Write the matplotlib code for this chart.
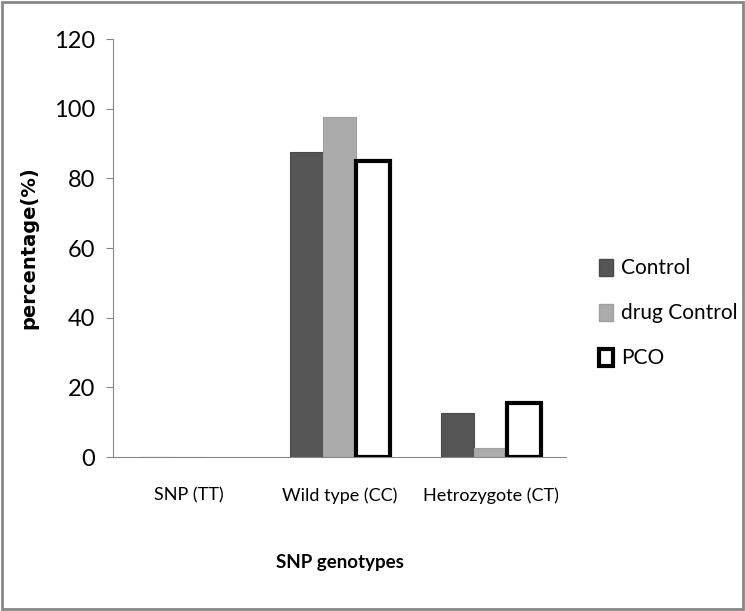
import numpy as np
import matplotlib
matplotlib.use('Agg')
import matplotlib.pyplot as plt
from matplotlib.patches import Rectangle, Patch

plt.rcParams['font.family'] = ['Lato', 'DejaVu Sans']

categories = ['SNP (TT)', 'Wild type (CC)', 'Hetrozygote (CT)']
series_names = ['Control', 'drug Control', 'PCO']
control = [0, 87.5, 12.5]
drug_control = [0, 97.5, 2.5]
pco = [0, 85, 15.5]

fig = plt.figure(figsize=(7.45, 6.11), dpi=100)
ax = fig.add_axes([0.152, 0.252, 0.608, 0.684])

x = np.arange(len(categories))
w = 0.22
ax.bar(x - w, control, w, color='#555555', edgecolor='#4a4a4a', linewidth=0.8)
ax.bar(x, drug_control, w, color='#ababab', edgecolor='#a0a0a0', linewidth=0.8)
# no outline on empty bars
pco_lw = [3 if v > 0 else 0 for v in pco]
ax.bar(x + w, pco, w, color='white', edgecolor='black', linewidth=pco_lw)

ax.set_xlim(-0.5, 2.5)
ax.set_ylim(0, 120)
ax.set_yticks(range(0, 121, 20))
ax.set_xticks(x)
ax.set_xticklabels(categories, fontsize=13)
ax.tick_params(axis='x', length=0, pad=22)
ax.tick_params(axis='y', labelsize=17, length=5, color='#888888', pad=8)
for s in ['top', 'right']:
    ax.spines[s].set_visible(False)
for s in ['left', 'bottom']:
    ax.spines[s].set_color('#888888')

ax.set_xlabel('SNP genotypes', fontsize=13.5, fontweight='bold', labelpad=36)
ax.set_ylabel('percentage(%)', fontsize=14, fontweight='bold', family='DejaVu Sans', labelpad=11)

handles = [Patch(facecolor='#555555', edgecolor='#4a4a4a'),
           Patch(facecolor='#ababab', edgecolor='#a0a0a0'),
           Patch(facecolor='white', edgecolor='black', linewidth=3)]
ax.legend(handles, series_names, loc='upper left', bbox_to_anchor=(1.03, 0.52), frameon=False,
          fontsize=15, handlelength=0.7, handleheight=0.9, handletextpad=0.4, labelspacing=1.2)

fig.patches.append(Rectangle((0.003, 0.003), 0.994, 0.994, transform=fig.transFigure,
                             fill=False, edgecolor='#888888', linewidth=2))

plt.savefig('out.png', dpi=100)
